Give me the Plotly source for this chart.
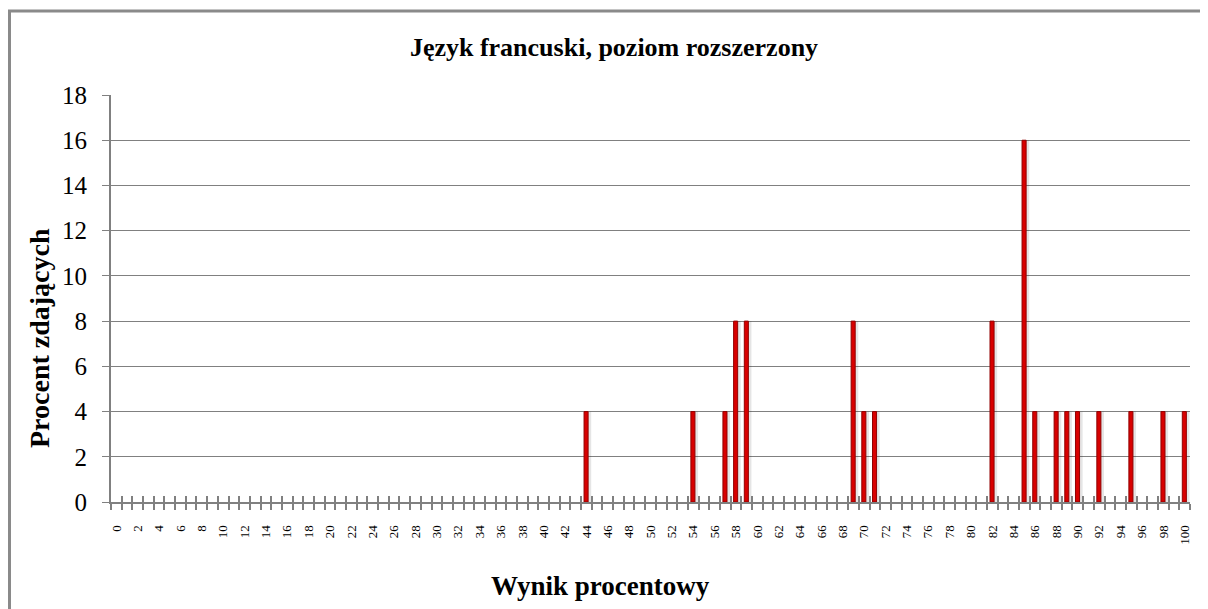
import plotly.graph_objects as go

# ---- data ----
scores = list(range(0, 101))
nonzero = {44: 4, 54: 4, 57: 4, 58: 8, 59: 8, 69: 8, 70: 4, 71: 4, 82: 8,
           85: 16, 86: 4, 88: 4, 89: 4, 90: 4, 92: 4, 95: 4, 98: 4, 100: 4}
percent = [nonzero.get(s, 0) for s in scores]
x_tick_vals = list(range(0, 101, 2))
x_tick_text = [str(v) for v in x_tick_vals]
y_tick_vals = list(range(0, 19, 2))

title = "Język francuski, poziom rozszerzony"
x_title = "Wynik procentowy"
y_title = "Procent zdających"

# page offset of the plot div (body margin) is 8px
OFF = 8
W, H = 1200, 601
L, R, T, B = 111 - OFF, 18, 95 - OFF, 107
pw, ph = W - L - R, H - T - B

serif = "Liberation Serif"

fig = go.Figure()
# soft shadow
fig.add_trace(go.Bar(x=scores, y=percent, width=0.5, offset=-0.05,
                     marker=dict(color="rgba(0,0,0,0.10)", line=dict(width=0)),
                     hoverinfo="skip", showlegend=False))
# main bars
fig.add_trace(go.Bar(x=scores, y=percent, width=0.38, offset=-0.22,
                     marker=dict(color="#D80000",
                                 line=dict(color="#900000",
                                           width=[1 if v > 0 else 0 for v in percent])),
                     showlegend=False))
# invisible trace on overlay axis for inside ticks
fig.add_trace(go.Scatter(x=[-0.5, 100.5], y=[0, 0], xaxis="x2", mode="markers",
                         marker=dict(opacity=0), hoverinfo="skip", showlegend=False))

def px2x(p):
    return (p - OFF - L) / pw

def px2y(p):
    return (H - B - (p - OFF)) / ph

fig.update_layout(
    width=W, height=H,
    margin=dict(l=L, r=R, t=T, b=B),
    paper_bgcolor="white", plot_bgcolor="white",
    barmode="overlay",
    title=dict(text=title, x=(614 - OFF) / W, xref="container",
               y=1 - (47 - OFF) / H, yref="container",
               yanchor="middle", xanchor="center",
               font=dict(family=serif, size=26, color="black", weight="bold")),
    xaxis=dict(range=[-0.5, 100.5], tickmode="array", tickvals=x_tick_vals,
               ticktext=x_tick_text, tickangle=-90, ticks="",
               ticklabelstandoff=16,
               tickfont=dict(family=serif, size=13, color="black"),
               showgrid=False, zeroline=False,
               showline=True, linecolor="#808080", linewidth=2,
               minor=dict(tickmode="linear", tick0=0.5, dtick=1, ticks="outside",
                          ticklen=6, tickcolor="#808080", tickwidth=2, showgrid=False)),
    xaxis2=dict(range=[-0.5, 100.5], overlaying="x", anchor="y", side="bottom",
                tickmode="linear", tick0=0.5, dtick=1, ticks="inside", ticklen=6,
                tickcolor="#808080", tickwidth=2, showticklabels=False,
                showgrid=False, zeroline=False, showline=False),
    yaxis=dict(range=[0, 18], tickmode="array", tickvals=y_tick_vals,
               ticks="outside", ticklen=7, tickcolor="#808080", tickwidth=1,
               ticklabelstandoff=10,
               tickfont=dict(family=serif, size=25, color="black"),
               showgrid=True, gridcolor="#808080", gridwidth=1,
               zeroline=False, showline=True, linecolor="#808080", linewidth=2),
    annotations=[
        dict(text=x_title, xref="paper", yref="paper", x=px2x(600), y=px2y(586),
             xanchor="center", yanchor="middle", showarrow=False,
             font=dict(family=serif, size=27, color="black", weight="bold")),
        dict(text=y_title, xref="paper", yref="paper", x=px2x(39), y=px2y(338),
             xanchor="center", yanchor="middle", showarrow=False, textangle=-90,
             font=dict(family=serif, size=28, color="black", weight="bold")),
    ],
    shapes=[dict(type="rect", xref="paper", yref="paper",
                 x0=px2x(9.5), x1=px2x(1230), y0=px2y(640), y1=px2y(11),
                 line=dict(color="#8a8a8a", width=3), fillcolor="rgba(0,0,0,0)",
                 layer="below")],
)

fig.write_html("out.html")
